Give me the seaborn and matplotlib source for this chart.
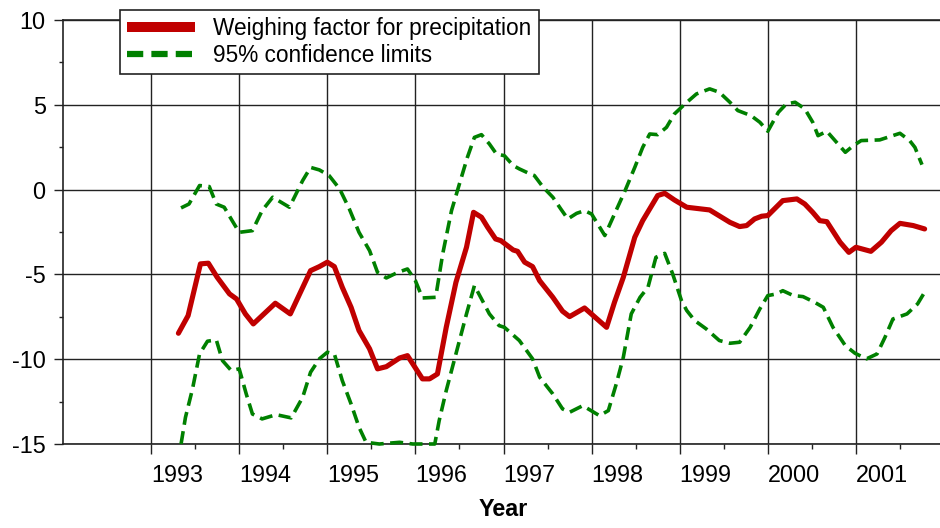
import matplotlib
matplotlib.use("Agg")
import matplotlib.pyplot as plt
import seaborn as sns
import pandas as pd

# ---- data ----
wf_year = [1993.31, 1993.42, 1993.56, 1993.65, 1993.75, 1993.89, 1993.97, 1994.07, 1994.16,
           1994.41, 1994.58, 1994.81, 1994.91, 1995.00, 1995.08, 1995.17, 1995.27, 1995.36,
           1995.48, 1995.57, 1995.67, 1995.82, 1995.91, 1996.08, 1996.16, 1996.25, 1996.35,
           1996.46, 1996.58, 1996.66, 1996.75, 1996.82, 1996.91, 1996.97, 1997.11, 1997.16,
           1997.24, 1997.33, 1997.41, 1997.56, 1997.67, 1997.75, 1997.92, 1998.17, 1998.26,
           1998.36, 1998.49, 1998.58, 1998.75, 1998.83, 1998.94, 1999.08, 1999.34, 1999.57,
           1999.68, 1999.76, 1999.85, 1999.93, 2000.00, 2000.17, 2000.33, 2000.42, 2000.51,
           2000.59, 2000.67, 2000.82, 2000.92, 2001.00, 2001.17, 2001.29, 2001.40, 2001.50,
           2001.65, 2001.78]
wf_value = [-8.47, -7.43, -4.38, -4.34, -5.17, -6.15, -6.45, -7.33, -7.92,
            -6.70, -7.33, -4.78, -4.54, -4.28, -4.54, -5.76, -6.94, -8.31,
            -9.39, -10.57, -10.44, -9.93, -9.79, -11.16, -11.16, -10.87, -8.12,
            -5.47, -3.40, -1.34, -1.63, -2.22, -2.91, -3.01, -3.56, -3.64,
            -4.28, -4.54, -5.37, -6.35, -7.17, -7.49, -6.98, -8.12, -6.64,
            -5.17, -2.81, -1.83, -0.35, -0.22, -0.61, -1.04, -1.20, -1.93,
            -2.18, -2.12, -1.73, -1.57, -1.53, -0.65, -0.55, -0.85, -1.34,
            -1.83, -1.89, -3.10, -3.70, -3.40, -3.64, -3.10, -2.42, -1.99,
            -2.12, -2.32]

up_year = [1993.34, 1993.43, 1993.55, 1993.66, 1993.74, 1993.83, 1993.92, 1994.00, 1994.15,
           1994.26, 1994.38, 1994.57, 1994.72, 1994.81, 1994.91, 1995.02, 1995.14, 1995.25,
           1995.36, 1995.48, 1995.57, 1995.67, 1995.80, 1995.91, 1996.00, 1996.08, 1996.23,
           1996.31, 1996.41, 1996.50, 1996.59, 1996.67, 1996.75, 1996.84, 1996.92, 1997.01,
           1997.11, 1997.18, 1997.30, 1997.35, 1997.45, 1997.56, 1997.65, 1997.73, 1997.83,
           1997.92, 1998.00, 1998.15, 1998.26, 1998.38, 1998.49, 1998.58, 1998.66, 1998.75,
           1998.85, 1998.94, 1999.06, 1999.19, 1999.34, 1999.45, 1999.57, 1999.66, 1999.81,
           1999.91, 2000.00, 2000.12, 2000.21, 2000.31, 2000.42, 2000.51, 2000.57, 2000.67,
           2000.78, 2000.88, 2000.97, 2001.06, 2001.27, 2001.50, 2001.61, 2001.67, 2001.75]
up_value = [-1.08, -0.85, 0.24, 0.18, -0.85, -1.04, -1.83, -2.52, -2.42,
            -1.24, -0.45, -1.04, 0.53, 1.31, 1.16, 0.83, 0.04, -1.14,
            -2.52, -3.60, -4.88, -5.21, -4.88, -4.68, -5.37, -6.39, -6.35,
            -3.79, -1.24, 0.34, 1.90, 3.08, 3.24, 2.69, 2.10, 2.00,
            1.42, 1.22, 0.93, 0.83, 0.14, -0.45, -1.14, -1.73, -1.40,
            -1.24, -1.44, -2.71, -1.44, -0.06, 1.31, 2.49, 3.28, 3.24,
            3.67, 4.46, 5.05, 5.64, 5.94, 5.74, 5.15, 4.66, 4.36,
            3.97, 3.44, 4.56, 5.05, 5.15, 4.76, 3.97, 3.18, 3.44,
            2.79, 2.20, 2.59, 2.89, 2.93, 3.32, 2.89, 2.49, 1.47]

lo_year = [1993.34, 1993.39, 1993.47, 1993.55, 1993.64, 1993.74, 1993.81, 1993.91, 1994.00,
           1994.08, 1994.15, 1994.26, 1994.42, 1994.59, 1994.72, 1994.81, 1994.91, 1995.00,
           1995.08, 1995.17, 1995.27, 1995.36, 1995.44, 1995.59, 1995.82, 1995.97, 1996.22,
           1996.27, 1996.35, 1996.46, 1996.58, 1996.67, 1996.76, 1996.84, 1996.95, 1997.01,
           1997.18, 1997.33, 1997.41, 1997.56, 1997.67, 1997.75, 1997.90, 1998.09, 1998.19,
           1998.28, 1998.36, 1998.45, 1998.55, 1998.64, 1998.73, 1998.83, 1998.92, 1999.02,
           1999.08, 1999.17, 1999.30, 1999.45, 1999.57, 1999.68, 1999.80, 1999.91, 2000.00,
           2000.10, 2000.17, 2000.29, 2000.40, 2000.53, 2000.63, 2000.74, 2000.88, 2000.99,
           2001.12, 2001.24, 2001.33, 2001.42, 2001.58, 2001.70, 2001.78]
lo_value = [-15.0, -13.43, -11.75, -9.69, -8.94, -8.86, -10.08, -10.67, -10.57,
            -12.05, -13.23, -13.52, -13.27, -13.46, -12.25, -10.77, -9.98, -9.59,
            -9.69, -11.26, -12.64, -14.01, -14.90, -15.0, -14.90, -15.0, -15.0,
            -13.62, -11.85, -9.69, -7.33, -5.66, -6.54, -7.33, -8.02, -8.12,
            -8.90, -9.98, -11.06, -12.05, -12.93, -13.13, -12.74, -13.33, -13.03,
            -11.46, -9.89, -7.33, -6.35, -5.76, -3.99, -3.76, -4.97, -6.54,
            -7.13, -7.72, -8.21, -8.90, -9.06, -9.00, -8.12, -7.03, -6.25,
            -6.15, -5.96, -6.25, -6.31, -6.64, -6.94, -8.12, -9.20, -9.65,
            -9.98, -9.69, -8.71, -7.63, -7.33, -6.74, -6.05]

x_major = [1993, 1994, 1995, 1996, 1997, 1998, 1999, 2000, 2001]
x_labels = ["1993", "1994", "1995", "1996", "1997", "1998", "1999", "2000", "2001"]
y_major = [-15, -10, -5, 0, 5, 10]
y_labels = ["-15", "-10", "-5", "0", "5", "10"]

label_wf = "Weighing factor for precipitation"
label_ci = "95% confidence limits"

# ---- style ----
sns.set_style("white")
plt.rcParams['font.family'] = ['Liberation Sans', 'DejaVu Sans']
plt.rcParams['text.color'] = 'black'
plt.rcParams['axes.labelcolor'] = 'black'
plt.rcParams['xtick.color'] = 'black'
plt.rcParams['ytick.color'] = 'black'

fig = plt.figure(figsize=(9.4, 5.28), dpi=100)
ax = fig.add_axes([63 / 940, 84 / 528, 881 / 940, 424 / 528])

red = "#C00000"
green = "#008000"
fs = 16.8
lfs = 16.3

df_wf = pd.DataFrame({"year": wf_year, "value": wf_value})
df_up = pd.DataFrame({"year": up_year, "value": up_value})
df_lo = pd.DataFrame({"year": lo_year, "value": lo_value})

sns.lineplot(data=df_wf, x="year", y="value", ax=ax, color=red, linewidth=3.7,
             label=label_wf, zorder=5)
sns.lineplot(data=df_up, x="year", y="value", ax=ax, color=green, linewidth=2.6,
             label=label_ci, zorder=4)
sns.lineplot(data=df_lo, x="year", y="value", ax=ax, color=green, linewidth=2.6,
             label="_nolegend_", zorder=4)
for ln in ax.lines[1:3]:
    ln.set_linestyle((0, (3.6, 1.8)))
    ln.set_clip_on(False)

ax.set_xlim(1992, 2002)
ax.set_ylim(-15, 10)

ax.set_xticks(x_major)
ax.set_xticklabels(x_labels, ha="left")
ax.set_xticks([v + 0.5 for v in x_major], minor=True)
ax.set_yticks(y_major)
ax.set_yticklabels(y_labels)
ax.set_yticks([v + 2.5 for v in y_major[:-1]], minor=True)

ax.tick_params(axis="x", which="major", direction="out", length=7.5, width=1.0,
               color="#222222", labelcolor="black", labelsize=fs, pad=7, bottom=True)
ax.tick_params(axis="x", which="minor", direction="out", length=3.5, width=1.0,
               color="#222222", bottom=True)
ax.tick_params(axis="y", which="major", direction="out", length=6.5, width=1.0,
               color="#222222", labelcolor="black", labelsize=fs, pad=6, left=True)
ax.tick_params(axis="y", which="minor", direction="out", length=3, width=1.0,
               color="#222222", left=True)

ax.grid(True, which="major", color="#222222", linewidth=1.0)
ax.set_axisbelow(True)
for side in ["left", "bottom", "top"]:
    ax.spines[side].set_color("#222222")
    ax.spines[side].set_linewidth(1.2)
ax.spines["right"].set_visible(False)

ax.set_xlabel("Year", fontsize=fs, fontweight="bold", labelpad=8, color="black")
ax.set_ylabel("")

leg = ax.legend(loc="upper left", bbox_to_anchor=(120 / 940, 1 - 10 / 528),
                bbox_transform=fig.transFigure, borderaxespad=0, fontsize=lfs,
                frameon=True, fancybox=False, edgecolor="#222222", framealpha=1,
                handlelength=3.0, handletextpad=0.8, borderpad=0.32, labelspacing=0.15)
leg.get_frame().set_linewidth(1.2)
leg.set_zorder(10)
for t in leg.get_texts():
    t.set_color("black")
hl = leg.get_lines()
hl[0].set_linewidth(7.2)
hl[0].set_solid_capstyle("butt")
hl[1].set_linewidth(4.5)
hl[1].set_linestyle((0, (2.6, 1.3)))

fig.savefig("out.png", dpi=100)
